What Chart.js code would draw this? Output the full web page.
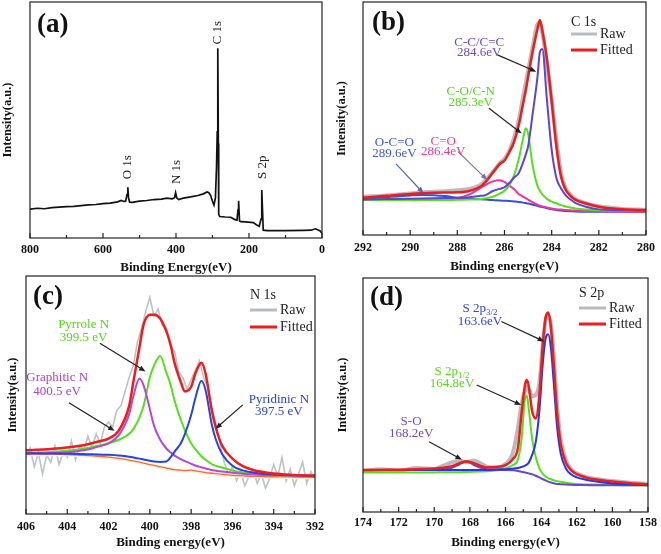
<!DOCTYPE html>
<html>
<head>
<meta charset="utf-8">
<script src="https://cdn.jsdelivr.net/npm/chart.js@4.4.1/dist/chart.umd.min.js"></script>
<style>
  body { margin: 0; background: #fff; }
  #wrap { position: relative; width: 661px; height: 554px; overflow: hidden; }
  canvas { position: absolute; }
</style>
</head>
<body>
<div id="wrap">
  <canvas id="chart-a" width="330" height="275" style="left:0;top:0"></canvas>
  <canvas id="chart-b" width="331" height="275" style="left:330px;top:0"></canvas>
  <canvas id="chart-c" width="330" height="279" style="left:0;top:275px"></canvas>
  <canvas id="chart-d" width="331" height="279" style="left:330px;top:275px"></canvas>
</div>
<script>
// (a) survey spectrum
const surveyEnergy = [800, 780, 760, 740, 720, 700, 680, 660, 640, 620, 600, 580, 560, 550, 544, 538, 534, 532, 530, 527,
  520, 500, 480, 460, 440, 425, 410, 404, 401, 398, 393, 380, 360, 340, 325, 315, 310, 305, 300, 296,
  292, 289, 287, 285.5, 284, 283, 280, 265, 250, 240, 233, 230, 228.5, 226, 222, 210, 195, 188, 180, 172,
  167, 165, 163, 161, 150, 100, 50, 30, 18, 12, 5, 0];
const surveyCounts = [12.2, 12.6, 12.4, 12.9, 13.1, 13.3, 13.4, 13.7, 14.0, 14.2, 14.6, 14.8, 15.3, 15.9, 15.5, 15.6, 18.5, 21.5, 17.0, 15.2,
  15.1, 15.6, 15.9, 16.3, 16.5, 16.9, 16.6, 17.1, 19.2, 17.0, 16.3, 16.9, 17.4, 18.0, 18.7, 19.5, 19.2, 18.0, 15.6, 14.0,
  17.0, 30.0, 45.0, 80.4, 40.0, 10.0, 9.1, 8.9, 8.8, 7.9, 7.6, 12.0, 15.8, 7.2, 6.9, 6.8, 6.6, 6.5, 5.6, 5.0,
  8.0, 20.3, 12.0, 3.3, 3.1, 3.1, 3.2, 3.3, 3.9, 3.5, 3.0, 2.0];

// (b) C 1s
const c1sEnergy = [292, 291, 290, 289.5, 289, 288.5, 288, 287.5, 287, 286.8, 286.5, 286.2, 286, 285.8, 285.6, 285.4, 285.2, 285.1, 285.0, 284.8,
  284.6, 284.5, 284.4, 284.2, 284.0, 283.8, 283.6, 283.4, 283.2, 283.0, 282.5, 282, 281, 280];
const c1sRaw = [16.4, 17.0, 17.8, 18.3, 18.6, 18.8, 19.2, 19.8, 21.6, 23.5, 27.0, 30.8, 32.6, 36.0, 41.5, 49.0, 60.0, 65.0, 70.5, 81.0,
  90.5, 91.0, 87.0, 73.5, 58.0, 41.0, 26.5, 20.0, 17.2, 15.5, 13.5, 12.3, 11.2, 10.8];
const c1sFitted = [16.0, 16.8, 17.6, 17.9, 18.1, 18.2, 18.3, 18.9, 20.9, 22.8, 26.7, 30.5, 32.0, 35.5, 39.8, 47.0, 57.0, 62.0, 67.9, 79.0,
  88.5, 92.3, 88.0, 75.5, 57.5, 38.0, 25.0, 19.3, 16.8, 15.2, 13.4, 12.1, 11.0, 10.7];
const c1sCC = [15.2, 15.4, 15.6, 15.7, 15.8, 15.9, 16.0, 16.2, 16.8, 17.1, 18.9, 19.8, 20.5, 22.3, 24.6, 26.5, 31.5, 34.5, 38.0, 52.5,
  68.0, 78.5, 79.8, 58.0, 36.5, 24.5, 20.0, 17.0, 15.2, 13.8, 12.0, 11.0, 10.6, 10.4];
const c1sCO = [15.0, 15.0, 15.0, 15.0, 15.0, 15.0, 15.1, 15.2, 15.5, 15.8, 16.4, 17.8, 19.0, 21.3, 25.5, 32.4, 42.0, 45.8, 43.5, 29.5,
  21.0, 19.0, 17.5, 15.5, 14.3, 13.6, 12.8, 12.2, 11.8, 11.4, 10.9, 10.6, 10.4, 10.3];
const c1sCdO = [15.0, 15.0, 15.0, 15.0, 15.0, 15.3, 15.9, 17.3, 20.3, 21.5, 23.0, 23.5, 22.8, 21.2, 19.7, 17.6, 16.4, 15.8, 15.2, 14.0,
  13.0, 12.6, 12.3, 11.8, 11.4, 11.1, 10.9, 10.7, 10.6, 10.5, 10.3, 10.2, 10.1, 10.0];
const c1sOCO = [15.5, 16.3, 17.0, 17.2, 17.1, 16.7, 16.0, 15.6, 15.3, 15.2, 15.0, 14.8, 14.7, 14.6, 14.4, 14.2, 13.9, 13.7, 13.5, 13.0,
  12.5, 12.2, 12.0, 11.5, 11.0, 10.7, 10.5, 10.3, 10.2, 10.1, 10.0, 10.0, 10.0, 10.0];

// (c) N 1s
const n1sRawEnergy = [406.0, 405.8, 405.6, 405.4, 405.2, 405.0, 404.8, 404.6, 404.4, 404.2,
  404.0, 403.8, 403.6, 403.4, 403.2, 403.0, 402.8, 402.6, 402.4, 402.2,
  402.0, 401.8, 401.6, 401.4, 401.2, 401.0, 400.8, 400.6, 400.4, 400.2,
  400.0, 399.8, 399.6, 399.4, 399.2, 399.0, 398.8, 398.6, 398.4, 398.2,
  398.0, 397.8, 397.6, 397.4, 397.2, 397.0, 396.8, 396.6, 396.4, 396.2,
  396.0, 395.8, 395.6, 395.4, 395.2, 395.0, 394.8, 394.6, 394.4, 394.2,
  394.0, 393.8, 393.6, 393.4, 393.2, 393.0, 392.8, 392.6, 392.4, 392.2, 392.0];
const n1sRaw = [24, 28, 20, 26, 17, 25, 22, 29, 21, 26,
  24, 31, 23, 29, 27, 33, 28, 34, 30, 37,
  39, 37, 44, 46, 52, 58, 63, 73, 79, 86,
  92, 84, 87, 80, 79, 71, 69, 60, 58, 53,
  57, 61, 65, 58, 54, 45, 38, 30, 22, 17,
  20, 14, 18, 12, 16, 19, 13, 17, 11, 15,
  21, 16, 24, 14, 19, 12, 17, 22, 13, 18, 15];
const n1sEnergy = [406, 405, 404, 403, 402.5, 402, 401.5, 401, 400.8, 400.5, 400.3, 400, 399.8, 399.5, 399.2, 399,
  398.8, 398.5, 398.3, 398, 397.8, 397.5, 397.3, 397, 396.8, 396.5, 396, 395.5, 395, 394, 393, 392];
const n1sFitted = [27.0, 27.5, 28.2, 29.6, 30.8, 32.0, 35.5, 46.0, 56.0, 71.0, 80.5, 84.6, 84.6, 83.0, 77.5, 72.0,
  64.0, 56.0, 52.0, 54.0, 59.5, 64.2, 59.5, 44.0, 36.5, 29.0, 23.5, 20.3, 18.7, 17.2, 16.6, 16.2];
const n1sGraphitic = [25.6, 25.8, 26.2, 27.4, 28.6, 30.0, 33.5, 42.5, 50.0, 57.5, 54.5, 44.5, 37.5, 31.5, 27.8, 26.2,
  24.8, 23.3, 22.4, 21.3, 20.6, 19.8, 19.3, 18.7, 18.4, 18.0, 17.5, 17.1, 16.8, 16.5, 16.3, 16.2];
const n1sPyrrole = [25.8, 26.2, 26.8, 28.0, 29.0, 30.0, 31.5, 34.0, 36.0, 41.0, 46.0, 58.0, 63.0, 67.1, 60.0, 55.0,
  48.0, 40.0, 35.5, 30.0, 27.5, 24.5, 23.0, 21.2, 20.4, 19.7, 18.5, 17.6, 17.1, 16.6, 16.4, 16.2];
const n1sPyridinic = [25.8, 25.7, 25.6, 25.4, 25.3, 25.1, 24.8, 24.3, 24.0, 23.5, 23.1, 22.6, 22.3, 22.1, 22.3, 24.0,
  26.5, 30.0, 34.0, 42.0, 49.0, 56.6, 52.5, 38.0, 31.5, 25.5, 20.5, 18.5, 17.6, 16.8, 16.4, 16.2];
const n1sBackground = [25.4, 25.4, 25.2, 24.8, 24.5, 24.1, 23.6, 22.9, 22.5, 22.0, 21.6, 21.0, 20.6, 20.0, 19.5, 19.1,
  18.8, 18.6, 18.4, 18.6, 18.3, 17.9, 17.6, 17.3, 17.1, 16.8, 16.4, 16.2, 16.0, 15.8, 15.7, 15.6];

// (d) S 2p
const s2pEnergy = [174, 173, 172, 171, 170, 169.5, 169, 168.6, 168.2, 167.8, 167.4, 167, 166.5, 166, 165.6, 165.3, 165.1, 164.9, 164.8,
  164.7, 164.5, 164.3, 164.1, 163.9, 163.75, 163.6, 163.45, 163.3, 163.1, 162.9, 162.6, 162.3, 162, 161.5, 161, 160, 159, 158];
const s2pRaw = [17.5, 18.3, 17.6, 18.8, 18.4, 19.8, 21.2, 22.0, 21.2, 22.0, 20.8, 19.2, 19.0, 20.5, 25.0, 36.0, 46.0, 52.0, 53.5,
  52.5, 49.5, 50.0, 55.0, 72.0, 82.0, 84.0, 80.0, 68.0, 45.0, 31.0, 22.0, 18.0, 16.5, 15.0, 14.2, 13.2, 12.5, 12.0];
const s2pFitted = [17.9, 18.0, 18.1, 18.3, 18.6, 18.9, 19.6, 20.8, 21.6, 20.9, 19.7, 19.0, 19.2, 20.0, 22.5, 27.5, 42.0, 54.5, 56.4,
  54.0, 43.0, 40.0, 50.0, 72.0, 83.0, 85.3, 79.0, 64.0, 42.0, 29.0, 21.0, 17.8, 16.2, 14.8, 14.0, 13.0, 12.3, 11.8];
const s2p32 = [17.9, 17.9, 17.9, 17.9, 17.9, 17.9, 17.9, 17.9, 17.9, 17.9, 17.9, 18.0, 18.2, 18.3, 18.5, 18.8, 19.2, 19.8, 20.3,
  21.0, 24.5, 30.0, 43.0, 64.0, 74.0, 76.0, 70.0, 56.0, 36.0, 25.0, 18.5, 16.0, 14.8, 13.8, 13.1, 12.2, 11.7, 11.4];
const s2p12 = [16.9, 16.9, 16.9, 16.9, 16.9, 17.0, 17.0, 17.0, 17.1, 17.2, 17.3, 17.4, 17.8, 18.6, 20.0, 22.5, 31.0, 48.5, 49.7,
  44.5, 31.0, 23.5, 18.6, 16.2, 15.2, 14.5, 14.0, 13.6, 13.2, 12.9, 12.5, 12.2, 12.0, 11.8, 11.7, 11.5, 11.4, 11.4];
const s2pSO = [17.9, 17.9, 17.9, 17.9, 18.0, 18.3, 18.9, 20.3, 21.7, 20.2, 18.9, 18.2, 18.0, 18.0, 17.8, 17.5, 17.2, 16.9, 16.7,
  16.5, 16.1, 15.5, 14.8, 14.0, 13.5, 13.0, 12.6, 12.3, 12.0, 11.9, 11.7, 11.6, 11.5, 11.5, 11.4, 11.4, 11.4, 11.4];

const SERIF = "'Liberation Serif', 'Times New Roman', serif";
const RAW_GRAY = '#b9bcbf';
const FIT_RED = '#ee1c1c';
const GREEN = '#55e01a';

function line(label, xs, ys, color, width, smooth = true) {
  return {
    label,
    data: xs.map((v, i) => ({ x: v, y: ys[i] })),
    borderColor: color,
    borderWidth: width,
    pointRadius: 0,
    fill: false,
    tension: 0,
    cubicInterpolationMode: smooth ? 'monotone' : 'default',
  };
}

function drawArrow(ctx, x1, y1, x2, y2, color) {
  const ang = Math.atan2(y2 - y1, x2 - x1);
  const h = 7;
  ctx.strokeStyle = color;
  ctx.fillStyle = color;
  ctx.lineWidth = 1.2;
  ctx.beginPath();
  ctx.moveTo(x1, y1);
  ctx.lineTo(x2 - Math.cos(ang) * h * 0.7, y2 - Math.sin(ang) * h * 0.7);
  ctx.stroke();
  ctx.beginPath();
  ctx.moveTo(x2, y2);
  ctx.lineTo(x2 - h * Math.cos(ang - 0.38), y2 - h * Math.sin(ang - 0.38));
  ctx.lineTo(x2 - h * Math.cos(ang + 0.38), y2 - h * Math.sin(ang + 0.38));
  ctx.closePath();
  ctx.fill();
}

// frame, inward ticks, panel letter, legend and peak labels
function decor(cfg) {
  return {
    id: 'decor',
    afterDatasetsDraw(chart) {
      const { ctx, chartArea: a, scales: { x, y } } = chart;
      ctx.save();
      ctx.strokeStyle = '#222';
      ctx.lineWidth = 1.2;
      ctx.strokeRect(a.left, a.top, a.right - a.left, a.bottom - a.top);
      for (let v = x.min; v <= x.max + 1e-9; v += cfg.minor) {
        const px = x.getPixelForValue(v);
        const r = v / cfg.major;
        const major = Math.abs(r - Math.round(r)) < 1e-6;
        ctx.beginPath();
        ctx.moveTo(px, a.bottom);
        ctx.lineTo(px, a.bottom - (major ? 5 : 3));
        ctx.stroke();
      }

      ctx.fillStyle = '#111';
      ctx.font = 'bold 27px ' + SERIF;
      ctx.textAlign = 'left';
      ctx.textBaseline = 'middle';
      ctx.fillText(cfg.letter, a.left + cfg.letterAt[0], a.top + cfg.letterAt[1]);

      if (cfg.legend) {
        const L = cfg.legend;
        ctx.font = '14px ' + SERIF;
        ctx.fillStyle = '#222';
        ctx.fillText(L.title, a.right - L.dx, a.top + L.rows[0]);
        [[RAW_GRAY, 'Raw'], [FIT_RED, 'Fitted']].forEach(([c, t], i) => {
          const yy = a.top + L.rows[i + 1];
          ctx.strokeStyle = c;
          ctx.lineWidth = 3;
          ctx.beginPath();
          ctx.moveTo(a.right - L.dx, yy);
          ctx.lineTo(a.right - L.dx + L.len, yy);
          ctx.stroke();
          ctx.fillStyle = '#222';
          ctx.fillText(t, a.right - L.dx + L.len + 3, yy);
        });
      }

      (cfg.arrows || []).forEach(ar => {
        drawArrow(ctx, x.getPixelForValue(ar.from[0]), y.getPixelForValue(ar.from[1]),
          x.getPixelForValue(ar.to[0]), y.getPixelForValue(ar.to[1]), ar.color || '#222');
      });

      (cfg.notes || []).forEach(n => {
        const px = x.getPixelForValue(n.x);
        const py = y.getPixelForValue(n.y);
        ctx.fillStyle = n.color || '#222';
        ctx.textBaseline = 'middle';
        if (n.rotate) {
          ctx.save();
          ctx.translate(px, py);
          ctx.rotate(-Math.PI / 2);
          ctx.font = '13px ' + SERIF;
          ctx.textAlign = 'center';
          ctx.fillText(n.text, 0, 0);
          ctx.restore();
          return;
        }
        ctx.font = '13px ' + SERIF;
        if (n.sub) {
          const w1 = ctx.measureText(n.text).width;
          ctx.font = '9px ' + SERIF;
          const w2 = ctx.measureText(n.sub).width;
          const x0 = px - (w1 + w2) / 2;
          ctx.textAlign = 'left';
          ctx.font = '13px ' + SERIF;
          ctx.fillText(n.text, x0, py);
          ctx.font = '9px ' + SERIF;
          ctx.fillText(n.sub, x0 + w1, py + 4);
        } else {
          ctx.textAlign = 'center';
          ctx.fillText(n.text, px, py);
        }
      });
      ctx.restore();
    },
  };
}

function makeChart(id, opt) {
  return new Chart(document.getElementById(id), {
    type: 'line',
    data: { datasets: opt.datasets },
    options: {
      responsive: false,
      animation: false,
      devicePixelRatio: 1,
      layout: { padding: opt.padding },
      plugins: { legend: { display: false }, tooltip: { enabled: false } },
      scales: {
        x: {
          type: 'linear',
          reverse: true,
          min: opt.xMin,
          max: opt.xMax,
          ticks: {
            stepSize: opt.step,
            autoSkip: false,
            maxRotation: 0,
            padding: opt.tickPad,
            color: '#111',
            font: { family: SERIF, size: 12, weight: 'bold' },
          },
          grid: { display: false, drawTicks: false },
          border: { display: false },
          title: {
            display: true,
            text: opt.xTitle,
            color: '#111',
            font: { family: SERIF, size: 13, weight: 'bold', lineHeight: 1.2 },
            padding: { top: 0, bottom: opt.xTitlePad },
          },
          afterFit: s => { s.height = opt.xH; },
        },
        y: {
          min: 0,
          max: opt.yMax,
          ticks: { display: false },
          grid: { display: false, drawTicks: false },
          border: { display: false },
          title: {
            display: true,
            text: 'Intensity(a.u.)',
            color: '#111',
            font: { family: SERIF, size: 12.5, weight: 'bold', lineHeight: 1.2 },
            padding: { top: opt.yTitlePad, bottom: 0 },
          },
          afterFit: s => { s.width = opt.yW; },
        },
      },
    },
    plugins: [decor(opt.decor)],
  });
}

makeChart('chart-a', {
  datasets: [line('Survey', surveyEnergy, surveyCounts, '#111', 1.7, false)],
  padding: { top: 2, right: 8, bottom: 0, left: 0 },
  xMin: 0, xMax: 800, step: 200, tickPad: 5, xTitle: 'Binding Energy(eV)', xTitlePad: 0, xH: 37,
  yMax: 100, yW: 30, yTitlePad: 0,
  decor: {
    minor: 100, major: 200, letter: '(a)', letterAt: [7, 23],
    notes: [
      { text: 'O 1s', x: 532, y: 30, rotate: true },
      { text: 'N 1s', x: 398, y: 28, rotate: true },
      { text: 'C 1s', x: 285, y: 87, rotate: true },
      { text: 'S 2p', x: 162, y: 30, rotate: true },
    ],
  },
});

makeChart('chart-b', {
  datasets: [
    line('Fitted', c1sEnergy, c1sFitted, FIT_RED, 2.5),
    line('C-C/C=C', c1sEnergy, c1sCC, '#5b44d6', 2),
    line('C-O/C-N', c1sEnergy, c1sCO, GREEN, 2),
    line('C=O', c1sEnergy, c1sCdO, '#f0359a', 2),
    line('O-C=O', c1sEnergy, c1sOCO, '#3550dc', 2),
    line('Raw', c1sEnergy, c1sRaw, RAW_GRAY, 4),
  ],
  padding: { top: 2, right: 9, bottom: 0, left: 0 },
  xMin: 280, xMax: 292, step: 2, tickPad: 6, xTitle: 'Binding energy(eV)', xTitlePad: 1, xH: 40,
  yMax: 100, yW: 33, yTitlePad: 4,
  decor: {
    minor: 1, major: 2, letter: '(b)', letterAt: [9, 21],
    legend: { title: 'C 1s', dx: 75, len: 26, rows: [20, 32, 48] },
    arrows: [
      { from: [286.3, 77.3], to: [284.65, 70.1] },
      { from: [286.66, 54.4], to: [285.27, 43.6] },
      { from: [287.97, 35.8], to: [286.73, 23.6], color: '#7d6fa8' },
      { from: [290.6, 30.5], to: [289.43, 17.9], color: '#4e6aa8' },
    ],
    notes: [
      { text: 'C-C/C=C', x: 287.07, y: 82.5, color: '#6a4ad0' },
      { text: '284.6eV', x: 287.07, y: 78.1, color: '#6a4ad0' },
      { text: 'C-O/C-N', x: 287.43, y: 61.4, color: '#4fd81c' },
      { text: '285.3eV', x: 287.43, y: 56.7, color: '#4fd81c' },
      { text: 'C=O', x: 288.6, y: 39.9, color: '#ee3a96' },
      { text: '286.4eV', x: 288.6, y: 35.6, color: '#ee3a96' },
      { text: 'O-C=O', x: 290.67, y: 39.5, color: '#3a55d8' },
      { text: '289.6eV', x: 290.67, y: 34.8, color: '#3a55d8' },
    ],
  },
});

makeChart('chart-c', {
  datasets: [
    line('Fitted', n1sEnergy, n1sFitted, FIT_RED, 2.5),
    line('Pyridinic N', n1sEnergy, n1sPyridinic, '#2546dc', 2),
    line('Graphitic N', n1sEnergy, n1sGraphitic, '#b847d8', 2),
    line('Pyrrole N', n1sEnergy, n1sPyrrole, GREEN, 2),
    line('Background', n1sEnergy, n1sBackground, '#f06a4a', 1.3),
    line('Background band', n1sEnergy, n1sBackground, '#fdf3d6', 4),
    line('Raw', n1sRawEnergy, n1sRaw, '#bcc2c5', 1.6, false),
  ],
  padding: { top: 1, right: 8, bottom: 0, left: 0 },
  xMin: 392, xMax: 406, step: 2, tickPad: 6, xTitle: 'Binding energy(eV)', xTitlePad: 4, xH: 40,
  yMax: 101, yW: 26, yTitlePad: 5,
  decor: {
    minor: 1, major: 2, letter: '(c)', letterAt: [7, 21],
    legend: { title: 'N 1s', dx: 65, len: 27, rows: [19, 34, 51] },
    arrows: [
      { from: [402.42, 72.5], to: [400.21, 60.5] },
      { from: [403.92, 47.2], to: [401.71, 35.3] },
      { from: [395.5, 46.3], to: [396.82, 36.2] },
    ],
    notes: [
      { text: 'Pyrrole N', x: 403.21, y: 80.5, color: '#55d51c' },
      { text: '399.5 eV', x: 403.21, y: 74.7, color: '#55d51c' },
      { text: 'Graphitic N', x: 404.49, y: 57.8, color: '#b040c8' },
      { text: '400.5 eV', x: 404.49, y: 51.8, color: '#b040c8' },
      { text: 'Pyridinic N', x: 393.75, y: 48.4, color: '#2b40d6' },
      { text: '397.5 eV', x: 393.75, y: 43.4, color: '#2b40d6' },
    ],
  },
});

makeChart('chart-d', {
  datasets: [
    line('Fitted', s2pEnergy, s2pFitted, FIT_RED, 2.5),
    line('S 2p3/2', s2pEnergy, s2p32, '#2238e8', 2),
    line('S-O', s2pEnergy, s2pSO, '#6a45cc', 2),
    line('S 2p1/2', s2pEnergy, s2p12, GREEN, 2),
    line('Raw', s2pEnergy, s2pRaw, RAW_GRAY, 4),
  ],
  padding: { top: 3, right: 9, bottom: 0, left: 0 },
  xMin: 158, xMax: 174, step: 2, tickPad: 4, xTitle: 'Binding energy(eV)', xTitlePad: 4, xH: 42,
  yMax: 100, yW: 33, yTitlePad: 5,
  decor: {
    minor: 1, major: 2, letter: '(d)', letterAt: [7, 20],
    legend: { title: 'S 2p', dx: 69, len: 27, rows: [15, 30, 46] },
    arrows: [
      { from: [166.23, 81.4], to: [163.83, 72.9] },
      { from: [167.62, 54.3], to: [165.12, 45.7] },
      { from: [170.29, 30.0], to: [168.45, 22.4] },
    ],
    notes: [
      { text: 'S 2p', sub: '3/2', x: 167.43, y: 86.8, color: '#3046d8' },
      { text: '163.6eV', x: 167.43, y: 81.4, color: '#3046d8' },
      { text: 'S 2p', sub: '1/2', x: 169.0, y: 60.0, color: '#58d81c' },
      { text: '164.8eV', x: 169.0, y: 55.0, color: '#58d81c' },
      { text: 'S-O', x: 171.3, y: 38.6, color: '#6a4ac8' },
      { text: '168.2eV', x: 171.3, y: 33.6, color: '#6a4ac8' },
    ],
  },
});
</script>
</body>
</html>
